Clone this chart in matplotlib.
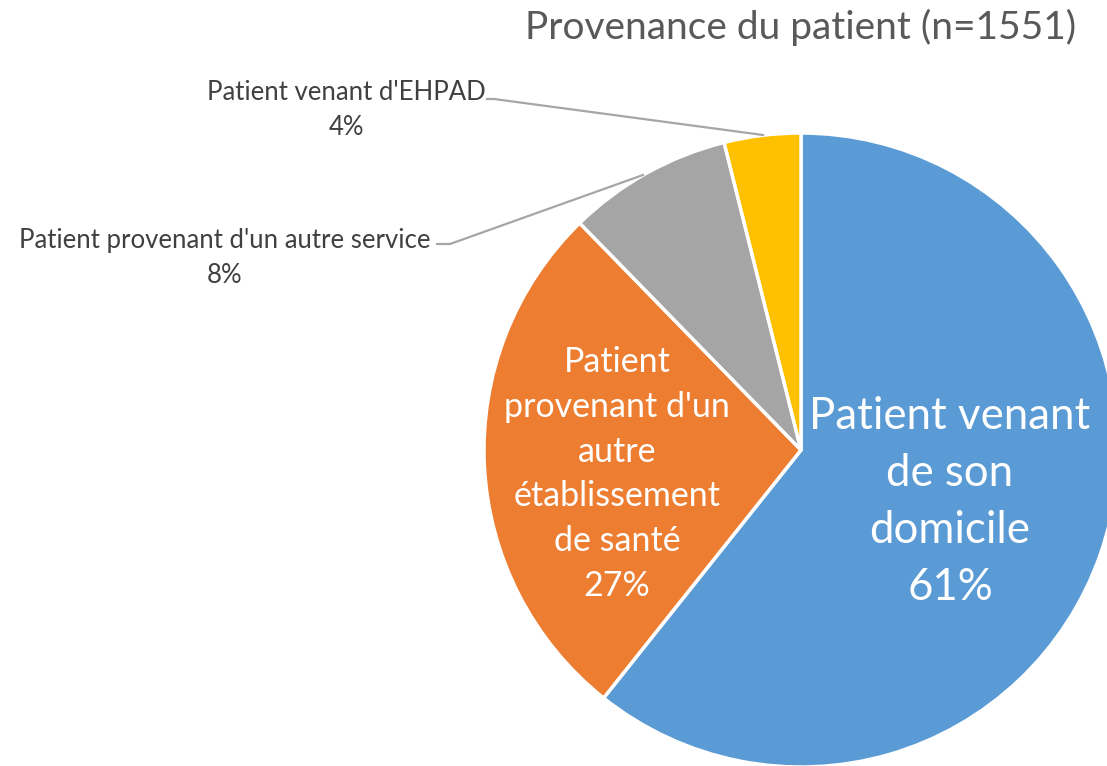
import matplotlib
matplotlib.use("Agg")
import matplotlib.pyplot as plt

categories = ["Patient venant de son domicile",
              "Patient provenant d'un autre établissement de santé",
              "Patient provenant d'un autre service",
              "Patient venant d'EHPAD"]
label_text = ["Patient venant\nde son\ndomicile",
              "Patient\nprovenant d'un\nautre\nétablissement\nde santé",
              "Patient provenant d'un autre service",
              "Patient venant d'EHPAD"]
values = [60.7, 27.0, 8.4, 3.9]
colors = ["#5B9BD5", "#ED7D31", "#A5A5A5", "#FFC000"]
title = "Provenance du patient (n=1551)"

W, H = 1107, 766
plt.rcParams['font.family'] = ['Lato', 'DejaVu Sans']
fig = plt.figure(figsize=(W / 100, H / 100), dpi=100)

def fx(x):
    return x / W

def fy(y):
    return 1 - y / H

cx, cy, r = 801, 450, 317
ax = fig.add_axes([fx(cx - r), fy(cy + r), 2 * r / W, 2 * r / H])
ax.pie(values, colors=colors, startangle=90, counterclock=False,
       wedgeprops=dict(edgecolor="white", linewidth=2.5))
ax.set_xlim(-1, 1)
ax.set_ylim(-1, 1)
ax.set_aspect('auto')
ax.axis('off')

pct = [f"{round(v / sum(values) * 100):d}%" for v in values]

fig.text(fx(801), fy(27), title, ha='center', va='center',
         fontsize=28, color='#595959')

# inside labels
fig.text(fx(950), fy(502), label_text[0] + "\n" + pct[0], ha='center', va='center',
         fontsize=31.5, color='white', linespacing=1.49)
fig.text(fx(617), fy(474), label_text[1] + "\n" + pct[1], ha='center', va='center',
         fontsize=24.5, color='white', linespacing=1.49)

# outside labels
fig.text(fx(346), fy(110), label_text[3] + "\n" + pct[3], ha='center', va='center',
         fontsize=18.5, color='#404040', linespacing=1.54)
fig.text(fx(225), fy(258), label_text[2] + "\n" + pct[2], ha='center', va='center',
         fontsize=18.5, color='#404040', linespacing=1.54)

# leader lines
lc = '#A6A6A6'
fig.add_artist(plt.Line2D([fx(487), fx(494), fx(763)], [fy(99), fy(99), fy(135)],
                          color=lc, linewidth=1.6))
fig.add_artist(plt.Line2D([fx(437), fx(450), fx(643)], [fy(244), fy(244), fy(175)],
                          color=lc, linewidth=1.6))

fig.savefig("out.png", dpi=100)
